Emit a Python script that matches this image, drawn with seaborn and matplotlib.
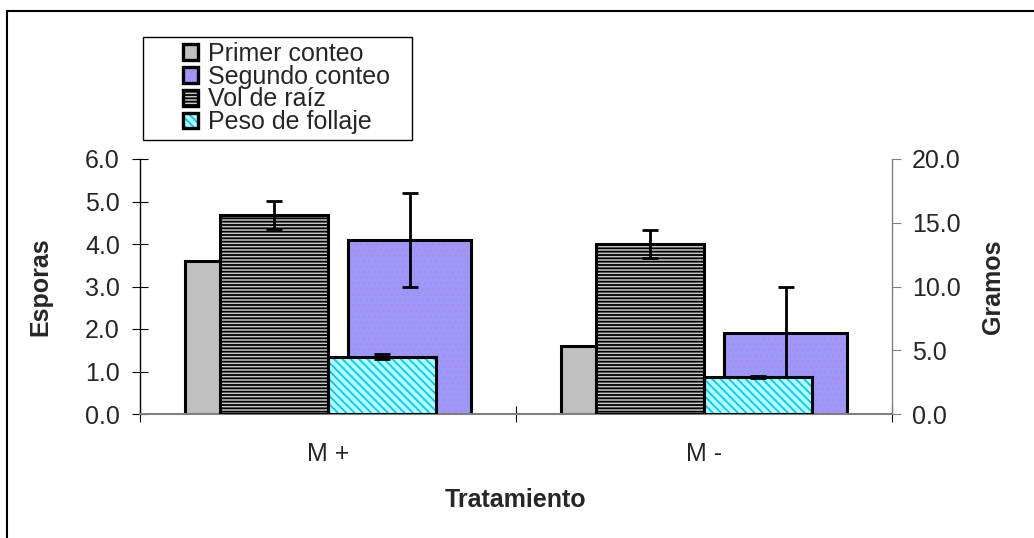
import matplotlib
matplotlib.use("Agg")
import numpy as np
import pandas as pd
import matplotlib.pyplot as plt
import seaborn as sns
from matplotlib.patches import Patch, Rectangle
from matplotlib.lines import Line2D

# ==========================================
# Data
# ==========================================
tratamientos = ["M +", "M -"]

# left axis: Esporas
primer_conteo = [3.6, 1.6]
segundo_conteo = [4.1, 1.9]
segundo_conteo_err = [1.1, 1.1]

# right axis: Gramos
vol_raiz = [15.6, 13.3]
vol_raiz_err = [1.1, 1.1]
peso_follaje = [4.5, 2.9]
peso_follaje_err = [0.2, 0.1]

esporas_ticks = [0.0, 1.0, 2.0, 3.0, 4.0, 5.0, 6.0]
gramos_ticks = [0.0, 5.0, 10.0, 15.0, 20.0]

series_left = ["Primer conteo", "Segundo conteo"]
series_right = ["Vol de raíz", "Peso de follaje"]

# face colour, hatch, hatch colour
estilos = {
    "Primer conteo": ("#c0c0c0", None, "#c0c0c0"),
    "Segundo conteo": ("#9999ff", "...", "#b58ae0"),
    "Vol de raíz": ("#c8c8c8", "-----", "#000000"),
    "Peso de follaje": ("#b3ffff", "\\\\\\\\", "#00c8f8"),
}

# ==========================================
# Plot
# ==========================================
sns.set_theme(style="white")
plt.rcParams["font.family"] = ["Liberation Sans", "DejaVu Sans"]
plt.rcParams["hatch.linewidth"] = 1.3

W, H = 1034, 538
fig = plt.figure(figsize=(W / 100, H / 100), dpi=100)
ax = fig.add_axes([140 / W, 124 / H, 752 / W, 255 / H])
ax2 = ax.twinx()

df_left = pd.DataFrame({
    "Tratamiento": tratamientos * 2,
    "Serie": [series_left[0]] * 2 + [series_left[1]] * 2,
    "valor": primer_conteo + segundo_conteo,
})
df_right = pd.DataFrame({
    "Tratamiento": tratamientos * 2,
    "Serie": [series_right[0]] * 2 + [series_right[1]] * 2,
    "valor": vol_raiz + peso_follaje,
})

sns.barplot(data=df_left, x="Tratamiento", y="valor", hue="Serie",
            order=tratamientos, hue_order=series_left,
            palette=[estilos[s][0] for s in series_left], saturation=1,
            width=0.872, gap=0.25, errorbar=None, legend=False, ax=ax)
sns.barplot(data=df_right, x="Tratamiento", y="valor", hue="Serie",
            order=tratamientos, hue_order=series_right,
            palette=[estilos[s][0] for s in series_right], saturation=1,
            width=0.572, gap=0, errorbar=None, legend=False, ax=ax2)


def estilizar(axis, series):
    patches = list(axis.patches)
    n = len(tratamientos)
    for k, p in enumerate(patches):
        face, hatch, hcolor = estilos[series[k // n]]
        p.set_facecolor(face)
        p.set_edgecolor(hcolor)
        p.set_linewidth(0)
        if hatch:
            p.set_hatch(hatch)
        axis.add_patch(Rectangle(p.get_xy(), p.get_width(), p.get_height(),
                                 fill=False, edgecolor="black", linewidth=2.2,
                                 zorder=p.get_zorder() + 0.1))
    return patches


bars_left = estilizar(ax, series_left)
bars_right = estilizar(ax2, series_right)

n = len(tratamientos)
err_kw = dict(fmt="none", ecolor="black", elinewidth=2, capsize=6, capthick=2, zorder=5)
for p, e in zip(bars_left[n:], segundo_conteo_err):
    ax.errorbar(p.get_x() + p.get_width() / 2, p.get_height(), yerr=e, **err_kw)
for p, e in zip(bars_right[:n], vol_raiz_err):
    ax2.errorbar(p.get_x() + p.get_width() / 2, p.get_height(), yerr=e, **err_kw)
for p, e in zip(bars_right[n:], peso_follaje_err):
    ax2.errorbar(p.get_x() + p.get_width() / 2, p.get_height(), yerr=e, **err_kw)

# axes limits / ticks
ax.set_ylim(esporas_ticks[0], esporas_ticks[-1])
ax2.set_ylim(gramos_ticks[0], gramos_ticks[-1])
ax.set_xlim(-0.5, n - 0.5)
ax.set_yticks(esporas_ticks, labels=[f"{t:.1f}" for t in esporas_ticks])
ax2.set_yticks(gramos_ticks, labels=[f"{t:.1f}" for t in gramos_ticks])
ax.set_xticks([i - 0.5 for i in range(n + 1)], labels=[""] * (n + 1))
ax.set_xticks(range(n), labels=tratamientos, minor=True)

gris = "#808080"
for s in ["top", "right"]:
    ax.spines[s].set_visible(False)
for s in ["top", "left", "bottom"]:
    ax2.spines[s].set_visible(False)
ax.spines["left"].set_color("black")
ax.spines["left"].set_linewidth(1.0)
ax.spines["bottom"].set_color(gris)
ax.spines["bottom"].set_linewidth(1.5)
ax2.spines["right"].set_color(gris)
ax2.spines["right"].set_linewidth(1.0)

ax.tick_params(axis="y", direction="inout", length=11, width=0.8, color="black",
               labelsize=18, pad=9, left=True)
ax2.tick_params(axis="y", direction="out", length=6.5, width=0.8, color=gris,
                labelsize=18, pad=8, right=True)
ax.tick_params(axis="x", which="major", direction="inout", length=12, width=0.8,
               color="black", bottom=True)
ax.tick_params(axis="x", which="minor", length=0, labelsize=18, pad=20)

ax.set_xlabel("Tratamiento", fontsize=18, fontweight="bold")
ax.set_ylabel("Esporas", fontsize=18, fontweight="bold")
ax2.set_ylabel("Gramos", fontsize=18, fontweight="bold")
ax.xaxis.label.set_va("center")
ax.yaxis.label.set_va("center")
ax2.yaxis.label.set_va("center")
ax.xaxis.set_label_coords(0.5, -0.337)
ax.yaxis.set_label_coords(-0.133, 0.5)
ax2.yaxis.set_label_coords(1.134, 0.5)

# legend (entries without frame, the box is drawn separately)
handles = []
for s in series_left + series_right:
    face, hatch, hcolor = estilos[s]
    relleno = Patch(facecolor=face, edgecolor=hcolor, linewidth=0, hatch=hatch)
    borde = Patch(facecolor="none", edgecolor="black", linewidth=2.4)
    handles.append((relleno, borde))
leg = fig.legend(handles, series_left + series_right, loc="upper left",
                 bbox_to_anchor=(183 / W, 1 - 42 / H), fontsize=18,
                 frameon=False, handlelength=0.6, handleheight=0.6,
                 handletextpad=0.4, labelspacing=-0.05, borderpad=0,
                 borderaxespad=0)
fig.add_artist(Rectangle((143 / W, 1 - 140 / H), (412 - 143) / W, (140 - 37) / H,
                         transform=fig.transFigure, fill=False,
                         edgecolor="black", linewidth=1.0, zorder=0))

# outer chart frame (only top and left edges visible)
fig.add_artist(Line2D([7 / W, 1], [1 - 11 / H] * 2, transform=fig.transFigure,
                      color="black", linewidth=1.5))
fig.add_artist(Line2D([7 / W] * 2, [0, 1 - 11 / H], transform=fig.transFigure,
                      color="black", linewidth=1.5))

fig.savefig("out.png", dpi=100)
